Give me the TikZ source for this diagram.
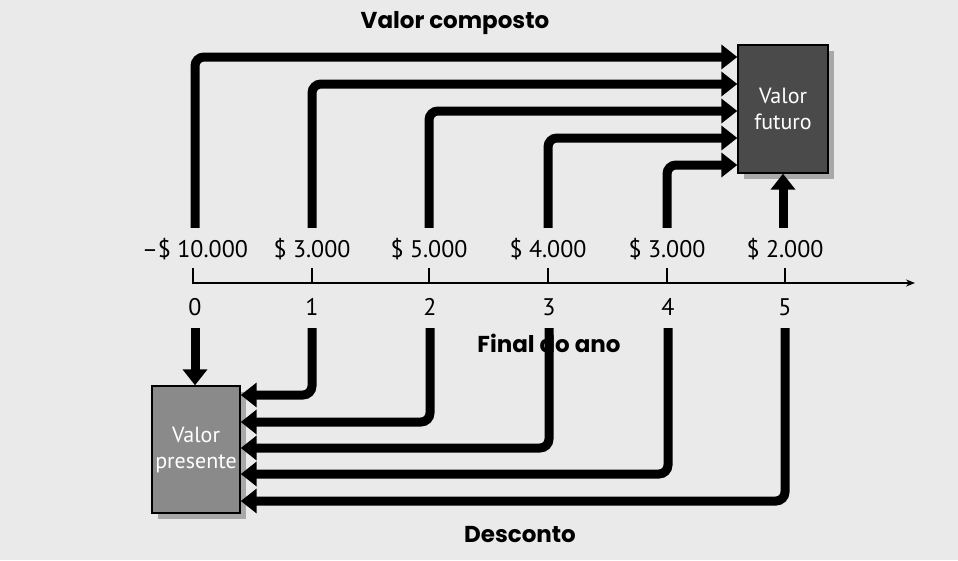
\documentclass[tikz,border=0pt]{standalone}
\usepackage{fontspec}
\setmainfont{PT Sans}
\newfontfamily\titlefont{Poppins}
\usetikzlibrary{arrows.meta,shadows}
\definecolor{bgcol}{HTML}{EAEAEA}
\definecolor{fvcol}{HTML}{4A4A4A}
\definecolor{pvcol}{HTML}{8A8A8A}
\definecolor{shcol}{HTML}{A8A8A8}
\tikzset{
  flow/.style={line width=9pt, rounded corners=9pt, -{Triangle[width=24pt,length=16pt]}},
  axisline/.style={line width=1.6pt},
  tickline/.style={line width=1.4pt},
  amt/.style={font=\fontsize{24}{24}\selectfont, anchor=base, text height=18pt, text depth=0pt, inner xsep=1pt, inner ysep=11pt},
  yr/.style={font=\fontsize{24}{24}\selectfont, anchor=base, text height=18pt, text depth=0pt, inner xsep=1pt, inner ysep=13pt},
  titletext/.style={font=\titlefont\bfseries\fontsize{23}{23}\selectfont, inner sep=1pt},
  valbox/.style={draw=black, line width=1.4pt, text=white, align=center,
    font=\fontsize{22}{26}\selectfont,
    drop shadow={shadow xshift=6pt, shadow yshift=-6pt, fill=shcol, opacity=1}},
}
\begin{document}
\begin{tikzpicture}[x=1pt,y=-1pt]
\fill[bgcol] (0,0) rectangle (958,560);
\useasboundingbox (0,0) rectangle (958,560);

% titles
\node[titletext] (tc) at (455,23) {Valor composto};
\node[titletext] (tf) at (549,343) {Final do ano};
\node[titletext] (td) at (520,535) {Desconto};

% boxes
\node[valbox, fill=fvcol, minimum width=90pt, minimum height=128pt] (vf) at (783,109) {Valor\\futuro};
\node[valbox, fill=pvcol, minimum width=88pt, minimum height=127pt] (vp) at (196,449.5) {Valor\\presente};

% cash flow amounts
\node[amt] (a0) at (195,257) {–\$ 10.000};
\node[amt] (a1) at (312,257) {\$ 3.000};
\node[amt] (a2) at (429,257) {\$ 5.000};
\node[amt] (a3) at (548,257) {\$ 4.000};
\node[amt] (a4) at (667,257) {\$ 3.000};
\node[amt] (a5) at (785,257) {\$ 2.000};

% years
\node[yr] (y0) at (195,315) {0};
\node[yr] (y1) at (312,315) {1};
\node[yr] (y2) at (430,315) {2};
\node[yr] (y3) at (549,315) {3};
\node[yr] (y4) at (668,315) {4};
\node[yr] (y5) at (785,315) {5};

% time axis
\draw[axisline, -{Stealth[length=9pt,width=7pt]}] (193,268) -- (193,283) -- (915,283);
\foreach \x in {312,429,548,667,785} \draw[tickline] (\x,268) -- (\x,283);

% compounding
\draw[flow] (a0.north) |- (vf.west |- 0,57);
\draw[flow] (a1.north) |- (vf.west |- 0,84);
\draw[flow] (a2.north) |- (vf.west |- 0,111);
\draw[flow] (a3.north) |- (vf.west |- 0,138);
\draw[flow] (a4.north) |- (vf.west |- 0,165);
\draw[flow] (vf.south |- a5.north) -- (vf.south);

% discounting
\draw[flow] (y0.south) -- (y0.south |- vp.north);
\draw[flow] (y1.south) |- (vp.east |- 0,395);
\draw[flow] (y2.south) |- (vp.east |- 0,422);
\draw[flow] (y3.south) |- (vp.east |- 0,448);
\draw[flow] (y4.south) |- (vp.east |- 0,474);
\draw[flow] (y5.south) |- (vp.east |- 0,501);
\end{tikzpicture}
\end{document}
